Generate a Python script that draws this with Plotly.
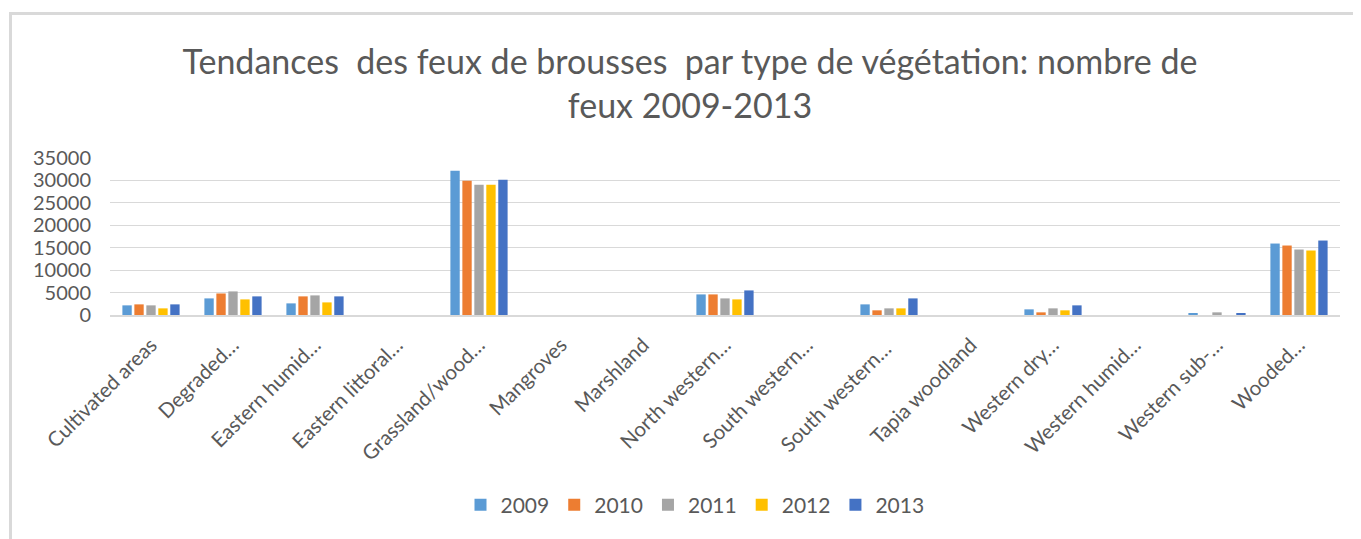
import plotly.graph_objects as go

categories = ["Cultivated areas", "Degraded…", "Eastern humid…", "Eastern littoral…",
              "Grassland/wood…", "Mangroves", "Marshland", "North western…",
              "South western…", "South western… ", "Tapia woodland", "Western dry…",
              "Western humid…", "Western sub-…", "Wooded…"]

years = ["2009", "2010", "2011", "2012", "2013"]
colors = ["#5B9BD5", "#ED7D31", "#A5A5A5", "#FFC000", "#4472C4"]

v2009 = [2150, 3700, 2590, 0, 32160, 0, 0, 4590, 0, 2370, 0, 1260, 0, 370, 15930]
v2010 = [2370, 4800, 4150, 0, 29940, 0, 0, 4590, 0, 1040, 0, 590, 0, 0, 15490]
v2011 = [2150, 5260, 4370, 0, 29050, 0, 0, 3700, 0, 1480, 0, 1480, 0, 590, 14600]
v2012 = [1480, 3480, 2810, 0, 29050, 0, 0, 3480, 0, 1480, 0, 1040, 0, 0, 14380]
v2013 = [2370, 4150, 4150, 0, 30160, 0, 0, 5480, 0, 3700, 0, 2150, 0, 370, 16600]
series = [v2009, v2010, v2011, v2012, v2013]

FONT = "Lato, Open Sans, sans-serif"

fig = go.Figure()
for name, vals, col in zip(years, series, colors):
    fig.add_trace(go.Bar(x=categories, y=vals, name=name, marker_color=col,
                         marker_line_width=0))

OFF = 8  # page body margin
W, H = 1361 - OFF, 539 - OFF
px0, px1, py0, py1 = 110, 1340, 158, 315  # plot area in page coords
L, T = px0 - OFF, py0 - OFF
R = W - (px1 - OFF)
B = H - (py1 - OFF)
pw = W - L - R
ph = H - T - B


def xp(page_x):
    return (page_x - px0) / pw


def yp(page_y):
    return (py1 - page_y) / ph


fig.update_layout(
    width=W, height=H,
    margin=dict(l=L, r=R, t=T, b=B),
    paper_bgcolor="white", plot_bgcolor="white",
    barmode="group", bargap=0.27, bargroupgap=0.22,
    title=dict(text="Tendances  des feux de brousses  par type de végétation: nombre de<br>feux 2009-2013",
               x=xp(690), xref="paper", xanchor="center",
               y=1 - 66 / H, yanchor="middle", yref="container",
               font=dict(family=FONT, size=34, color="#595959")),
    font=dict(family=FONT, color="#595959"),
    xaxis=dict(tickangle=-45, tickfont=dict(size=20.5, color="#595959"),
               showgrid=False, showline=True, linecolor="#d9d9d9", linewidth=2,
               ticks="", type="category", ticklabelstandoff=8),
    yaxis=dict(range=[0, 35000], dtick=5000, tickformat="d",
               tickfont=dict(size=20, color="#595959"),
               showgrid=True, gridcolor="#d9d9d9", gridwidth=1,
               zeroline=False, showline=False, ticks="", ticklabelstandoff=18),
    legend=dict(orientation="h", x=xp(695), xanchor="center",
                y=yp(505), yanchor="middle",
                font=dict(size=21, color="#595959"), traceorder="normal",
                itemwidth=30),
    showlegend=True,
)

# chart frame (left and top edges visible)
fig.add_shape(type="line", xref="paper", yref="paper",
              x0=xp(10.5), x1=xp(10.5), y0=yp(545), y1=yp(13.5),
              line=dict(color="#d9d9d9", width=3))
fig.add_shape(type="line", xref="paper", yref="paper",
              x0=xp(9), x1=xp(1365), y0=yp(13.5), y1=yp(13.5),
              line=dict(color="#d9d9d9", width=3))

fig.write_html("out.html")
